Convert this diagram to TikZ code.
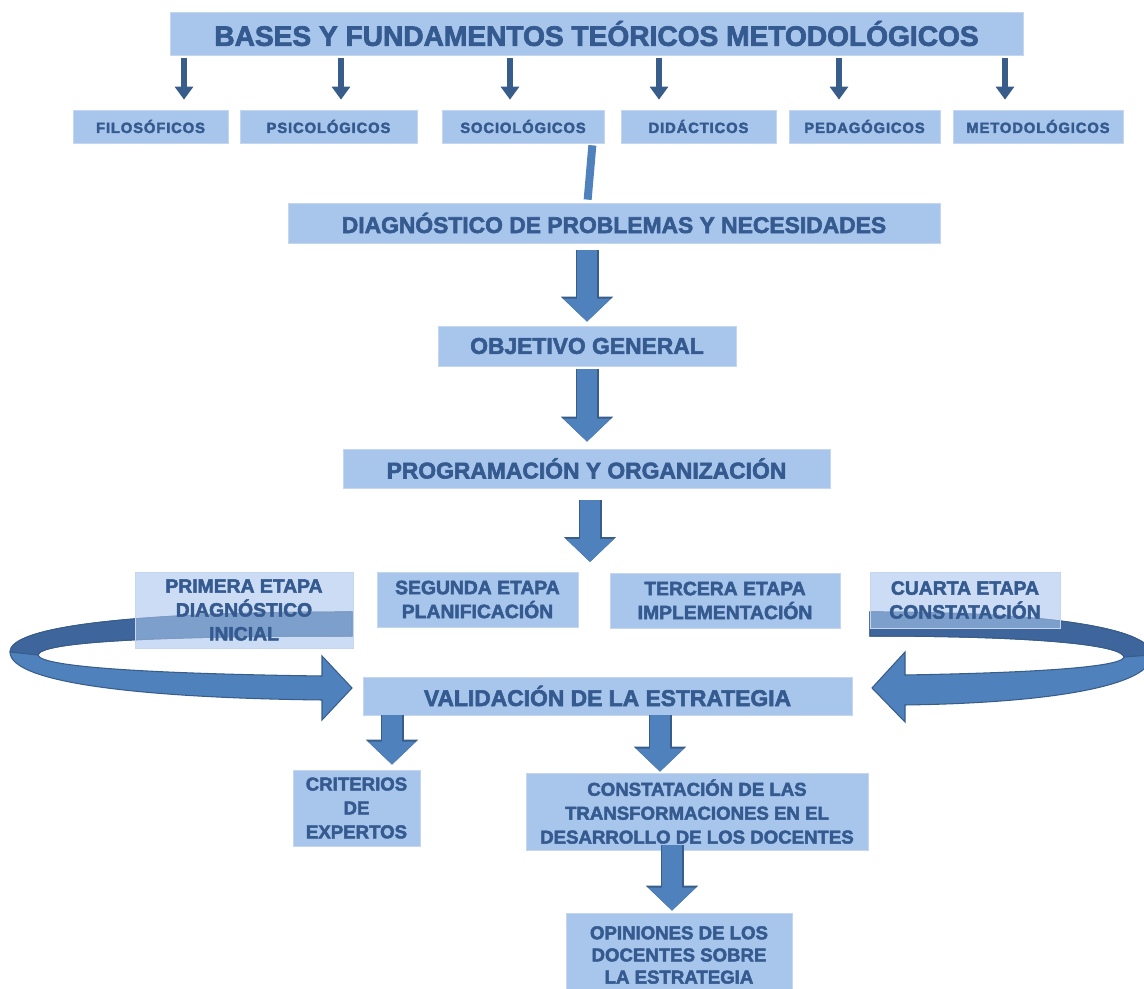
\documentclass[tikz,border=0pt]{standalone}
\usepackage{fontspec}
\setmainfont{Liberation Sans}
\newfontfamily\heavyfont{Liberation Sans}[BoldFeatures={FakeBold=2.5}]
\usepackage{tikz}
\usetikzlibrary{arrows.meta,calc}
\definecolor{boxfill}{RGB}{168,197,236}
\definecolor{boxline}{RGB}{196,214,240}
\definecolor{inkblue}{RGB}{52,90,143}
\definecolor{arrowdark}{RGB}{56,93,138}
\definecolor{arrowblue}{RGB}{79,129,189}
\definecolor{bandblue}{RGB}{62,102,156}
\tikzstyle{box}=[fill=boxfill,draw=boxline,inner sep=0pt,align=center,text=inkblue,font=\heavyfont\bfseries]
\tikzstyle{smalltext}=[font=\heavyfont\bfseries\fontsize{8.4}{9}\selectfont\addfontfeatures{LetterSpace=6}]
\tikzstyle{bigtext}=[font=\heavyfont\bfseries\fontsize{16}{18}\selectfont]
\tikzstyle{midtext}=[font=\heavyfont\bfseries\fontsize{13}{15}\selectfont]
\tikzstyle{stagetext}=[font=\heavyfont\bfseries\fontsize{11}{13.6}\selectfont]
\tikzstyle{lowtext}=[font=\heavyfont\bfseries\fontsize{10.6}{13.6}\selectfont]
\tikzstyle{smallarrow}=[draw=arrowdark,line width=0.12cm,-{Triangle[width=0.36cm,length=0.26cm]}]
\tikzstyle{bigarrow}=[draw=arrowblue,line width=0.4cm,-{Triangle[width=0.92cm,length=0.46cm]},
  preaction={draw=arrowdark,line width=0.46cm,-{Triangle[width=1.02cm,length=0.5cm]}}]
\tikzstyle{stem}=[draw=arrowblue,line width=0.16cm]
\tikzstyle{band}=[fill=arrowblue,draw=arrowdark,line width=0.6pt]
\tikzset{wh/.style 2 args={minimum width=#1*0.02cm,minimum height=#2*0.02cm}}

\begin{document}
\begin{tikzpicture}[x=0.02cm,y=-0.02cm]
  \useasboundingbox (0,0) rectangle (1144,989);
  % curved arrows behind the stages
  \path[band] (352,612) .. controls (120,612) and (10,628) .. (10,652)
    .. controls (10,684) and (150,698) .. (322,700) -- (322,720) -- (352,688)
    -- (322,656) -- (322,676) .. controls (170,674) and (40,668) .. (38,655)
    .. controls (40,642) and (150,636) .. (352,636) -- cycle;
  \path[band,fill=bandblue] (352,612) .. controls (120,612) and (10,628) .. (10,652)
    -- (38,655) .. controls (40,642) and (150,636) .. (352,636) -- cycle;
  \path[band] (870,612) .. controls (1060,612) and (1152,630) .. (1152,655)
    .. controls (1152,686) and (1050,703) .. (905,705) -- (905,722) -- (872,688)
    -- (905,652) -- (905,675) .. controls (1020,673) and (1122,668) .. (1124,657)
    .. controls (1122,645) and (1040,636) .. (870,636) -- cycle;
  \path[band,fill=bandblue] (870,612) .. controls (1060,612) and (1152,630) .. (1152,655)
    -- (1124,657) .. controls (1122,645) and (1040,636) .. (870,636) -- cycle;
  % top row
  \node[box,bigtext,wh={853}{43}] (bases) at (596.5,33.5) {BASES Y FUNDAMENTOS TEÓRICOS METODOLÓGICOS};
  \foreach \n/\x/\w/\t in {fil/150.5/155/FILOSÓFICOS,psi/328.5/177/PSICOLÓGICOS,soc/523/162/SOCIOLÓGICOS,
                           did/698.5/155/DIDÁCTICOS,ped/864.5/151/PEDAGÓGICOS,met/1038/170/METODOLÓGICOS} {
    \node[box,smalltext,wh={\w}{33}] (\n) at (\x,126.5) {\t};
  }
  \foreach \n/\x in {fil/184,psi/341,soc/510,did/659,ped/839,met/1005} {
    \draw[smallarrow,shorten <=0.06cm,shorten >=0.2cm] (bases.south -| \x,0) -- (\n.north -| \x,0);
  }
  % main column
  \node[box,midtext,wh={652}{40}] (diag) at (614,223) {DIAGNÓSTICO DE PROBLEMAS Y NECESIDADES};
  \node[box,midtext,wh={298}{40}] (obj) at (587,346) {OBJETIVO GENERAL};
  \node[box,midtext,wh={487}{39}] (prog) at (586.5,468.5) {PROGRAMACIÓN Y ORGANIZACIÓN};
  \coordinate (gap) at (590,562);
  \draw[stem] ($(soc.south east)+(-12,2)$) -- ($(diag.north west)+(300,-3)$);
  \draw[bigarrow,shorten <=0.14cm,shorten >=0.08cm] (diag.south -| obj.north) -- (obj.north);
  \draw[bigarrow,shorten <=0.06cm,shorten >=0.14cm] (obj.south) -- (obj.south |- prog.north);
  \draw[bigarrow,shorten <=0.24cm] (prog.south -| gap) -- (gap);
  % stages
  \node[box,stagetext,wh={218}{76},fill opacity=0.6,text opacity=1] (first) at (244,610) {PRIMERA ETAPA\\DIAGNÓSTICO\\INICIAL};
  \node[box,stagetext,wh={201}{55}] (second) at (477.5,599.5) {SEGUNDA ETAPA\\PLANIFICACIÓN};
  \node[box,stagetext,wh={230}{55}] (third) at (725,600.5) {TERCERA ETAPA\\IMPLEMENTACIÓN};
  \node[box,stagetext,wh={190}{56},fill opacity=0.6,text opacity=1] (fourth) at (965,600) {CUARTA ETAPA\\CONSTATACIÓN};
  % validation and results
  \node[box,midtext,wh={489}{38}] (val) at (607.5,696) {VALIDACIÓN DE LA ESTRATEGIA};
  \node[box,lowtext,wh={127}{76}] (crit) at (356.5,808) {CRITERIOS\\DE\\EXPERTOS};
  \node[box,lowtext,wh={342}{77}] (cons) at (697,811.5) {CONSTATACIÓN DE LAS\\TRANSFORMACIONES EN EL\\DESARROLLO DE LOS DOCENTES};
  \node[box,lowtext,font=\heavyfont\bfseries\fontsize{10.6}{12.6}\selectfont,wh={226}{84}] (opi) at (679,955) {OPINIONES DE LOS\\DOCENTES SOBRE\\LA ESTRATEGIA};
  \draw[bigarrow,shorten >=0.1cm] (val.south -| 392,0) -- (crit.north -| 392,0);
  \draw[bigarrow,shorten >=0.02cm] (val.south -| 660,0) -- (cons.north -| 660,0);
  \draw[bigarrow,shorten <=-0.1cm,shorten >=0.04cm] (cons.south -| 672,0) -- (opi.north -| 672,0);
\end{tikzpicture}
\end{document}
